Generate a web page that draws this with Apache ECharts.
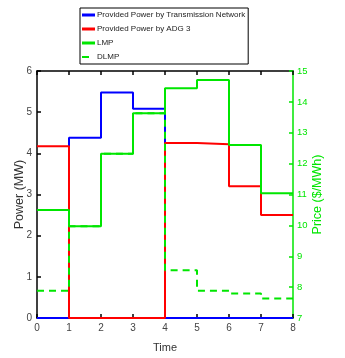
<!DOCTYPE html>
<html>
<head>
<meta charset="utf-8">
<script src="https://cdn.jsdelivr.net/npm/echarts@6/dist/echarts.min.js"></script>
<style>
  html, body { margin: 0; padding: 0; background: #fff; }
  #chart { width: 345px; height: 358px; }
</style>
</head>
<body>
<div id="chart"></div>
<script>
// hours 0..7, value holds for [t, t+1)
var hours = [0, 1, 2, 3, 4, 5, 6, 7, 8];
var gridPower = [0, 4.38, 5.48, 5.08, 0, 0, 0, 0];
var adgPower = [4.17, 0, 0, 0, 4.25, 4.22, 3.2, 2.5];
var lmp = [10.5, 9.97, 12.32, 13.63, 14.44, 14.71, 12.6, 11.04];
var dlmp = [7.88, 9.97, 12.32, 13.63, 8.55, 7.88, 7.79, 7.63];

// step data: last value carried to the end of the horizon
function steps(vals) {
  var pts = [];
  for (var i = 0; i < vals.length; i++) pts.push([hours[i], vals[i]]);
  pts.push([hours[hours.length - 1], vals[vals.length - 1]]);
  return pts;
}

var green = '#00e600';
var font = 'Liberation Sans';
var chart = echarts.init(document.getElementById('chart'));

var option = {
  animation: false,
  textStyle: { fontFamily: font },
  legend: {
    orient: 'vertical',
    left: 80,
    top: 8,
    padding: [3, 3, 3, 2],
    itemGap: 6,
    itemWidth: 13,
    itemHeight: 3,
    borderColor: '#000',
    borderWidth: 1,
    textStyle: { fontSize: 8, color: '#222', padding: [0, 0, 0, -3] },
    data: [
      { name: 'Provided Power by Transmission Network', icon: 'rect' },
      { name: 'Provided Power by ADG 3', icon: 'rect' },
      { name: 'LMP', icon: 'rect' },
      { name: 'DLMP', icon: 'path://M0,0H7V2H0Z M13,0H13V2H13Z' }
    ]
  },
  grid: { left: 37, right: 52, top: 71, bottom: 36 },
  xAxis: [
    {
      type: 'value', min: 0, max: 8, interval: 1,
      name: 'Time', nameLocation: 'middle', nameGap: 24, nameMoveOverlap: false,
      nameTextStyle: { fontSize: 11, color: '#333' },
      axisLine: { onZero: false, lineStyle: { color: '#000', width: 1.5 } },
      axisTick: { inside: true, length: 4, lineStyle: { color: '#000', width: 1.5 } },
      axisLabel: { fontSize: 10, color: '#444', margin: 5 },
      splitLine: { show: false }
    },
    {
      type: 'value', min: 0, max: 8, interval: 1, position: 'top',
      axisLine: { onZero: false, lineStyle: { color: '#000', width: 1.5 } },
      axisTick: { inside: true, length: 4, lineStyle: { color: '#000', width: 1.5 } },
      axisLabel: { show: false },
      splitLine: { show: false }
    }
  ],
  yAxis: [
    {
      type: 'value', min: 0, max: 6, interval: 1, position: 'left',
      name: 'Power (MW)', nameLocation: 'middle', nameGap: 11, nameRotate: 90, nameMoveOverlap: false,
      nameTextStyle: { fontSize: 12.5, color: '#333' },
      axisLine: { show: true, onZero: false, lineStyle: { color: '#000', width: 1.5 } },
      axisTick: { show: true, inside: true, length: 4, lineStyle: { color: '#000', width: 1.5 } },
      axisLabel: { fontSize: 10, color: '#444', margin: 5 },
      splitLine: { show: false }
    },
    {
      type: 'value', min: 7, max: 15, interval: 1, position: 'right',
      name: 'Price ($/MWh)', nameLocation: 'middle', nameGap: 18, nameRotate: 90, nameMoveOverlap: false,
      nameTextStyle: { fontSize: 12.5, color: green },
      axisLine: { show: true, onZero: false, lineStyle: { color: green, width: 1.5 } },
      axisTick: { show: true, inside: true, length: 4, lineStyle: { color: green, width: 1.5 } },
      axisLabel: { fontSize: 9.5, color: green, margin: 4 },
      splitLine: { show: false }
    }
  ],
  series: [
    {
      name: 'Provided Power by Transmission Network', type: 'line', step: 'end',
      xAxisIndex: 0, yAxisIndex: 0, symbol: 'none',
      color: '#0000ff', lineStyle: { width: 2 },
      data: steps(gridPower)
    },
    {
      name: 'Provided Power by ADG 3', type: 'line', step: 'end',
      xAxisIndex: 0, yAxisIndex: 0, symbol: 'none',
      color: '#ff0000', lineStyle: { width: 2 },
      data: steps(adgPower)
    },
    {
      name: 'LMP', type: 'line', step: 'end',
      xAxisIndex: 0, yAxisIndex: 1, symbol: 'none',
      color: green, lineStyle: { width: 2 },
      data: steps(lmp)
    },
    {
      name: 'DLMP', type: 'line', step: 'end',
      xAxisIndex: 0, yAxisIndex: 1, symbol: 'none',
      color: green, lineStyle: { width: 2, type: [7, 5] },
      data: steps(dlmp)
    }
  ]
};

chart.setOption(option);
</script>
</body>
</html>
